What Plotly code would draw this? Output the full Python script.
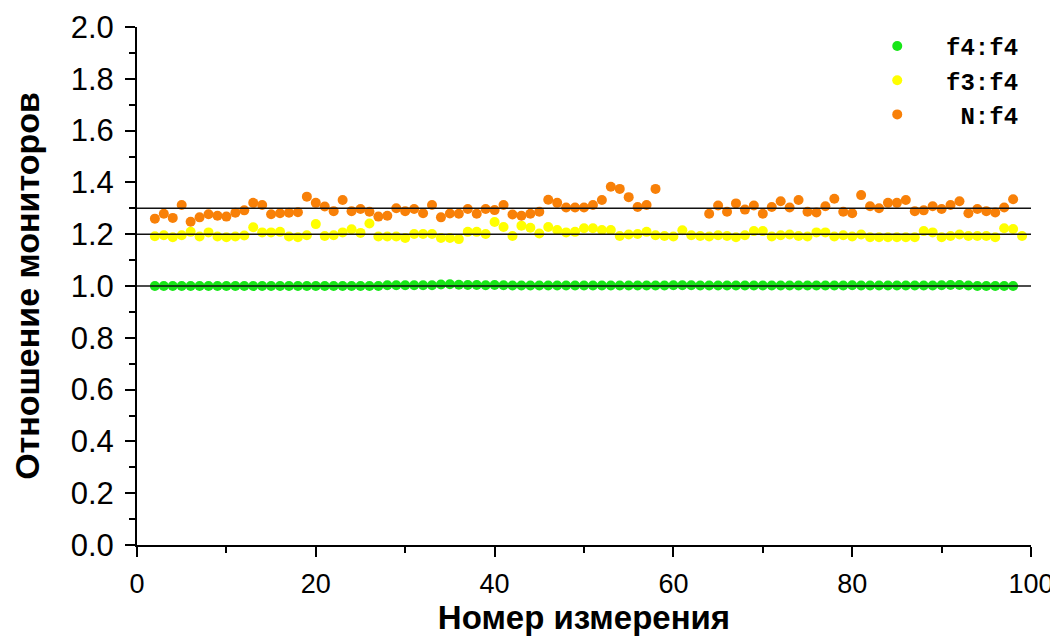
import plotly.graph_objects as go

# ---- data ----
green_x = list(range(2, 99))
green_y = [1.000, 1.000, 1.000, 1.000, 1.000, 1.000, 1.000, 1.000, 1.000, 1.000,
           1.000, 1.000, 1.000, 1.000, 1.000, 1.000, 1.000, 1.000, 1.000, 1.000,
           1.000, 1.000, 1.000, 1.000, 1.000, 1.000, 1.003, 1.003, 1.003, 1.003,
           1.003, 1.003, 1.006, 1.007, 1.005, 1.004, 1.004, 1.003, 1.004, 1.003,
           1.002, 1.002, 1.002, 1.002, 1.002, 1.002, 1.002, 1.002, 1.002, 1.002,
           1.002, 1.002, 1.002, 1.002, 1.002, 1.002, 1.002, 1.002, 1.003, 1.003,
           1.003, 1.002, 1.002, 1.002, 1.002, 1.002, 1.002, 1.002, 1.002, 1.002,
           1.002, 1.002, 1.002, 1.002, 1.002, 1.002, 1.002, 1.002, 1.003, 1.002,
           1.002, 1.002, 1.002, 1.002, 1.002, 1.002, 1.002, 1.002, 1.003, 1.004,
           1.004, 1.002, 1.000, 1.000, 1.000, 1.000, 1.000]

yellow_x = list(range(2, 100))
yellow_y = [1.192, 1.196, 1.188, 1.196, 1.209, 1.191, 1.207, 1.191, 1.188, 1.191,
            1.195, 1.227, 1.207, 1.207, 1.209, 1.191, 1.188, 1.196, 1.239,
            1.193, 1.196, 1.207, 1.219, 1.205, 1.241, 1.191, 1.191, 1.191, 1.185,
            1.201, 1.201, 1.201, 1.185, 1.185, 1.181, 1.209, 1.209, 1.201, 1.247,
            1.228, 1.193, 1.233, 1.225, 1.203, 1.228, 1.216, 1.207, 1.209, 1.223,
            1.223, 1.216, 1.216, 1.193, 1.199, 1.201, 1.209, 1.196, 1.193, 1.191,
            1.215, 1.196, 1.193, 1.191, 1.196, 1.193, 1.188, 1.196, 1.212, 1.212,
            1.191, 1.196, 1.199, 1.193, 1.191, 1.207, 1.207, 1.191, 1.196, 1.191, 1.199,
            1.188, 1.188, 1.188, 1.188, 1.188, 1.188, 1.212, 1.207, 1.188, 1.193,
            1.199, 1.193, 1.193, 1.193, 1.188, 1.223, 1.220, 1.193]

orange_x = list(range(2, 59)) + list(range(64, 99))
orange_y = [1.260, 1.279, 1.263, 1.313, 1.248, 1.265, 1.277, 1.271, 1.268, 1.283,
            1.292, 1.321, 1.313, 1.277, 1.281, 1.283, 1.285, 1.345, 1.321,
            1.307, 1.289, 1.332, 1.289, 1.297, 1.287, 1.268, 1.271, 1.300, 1.289,
            1.297, 1.281, 1.313, 1.265, 1.280, 1.279, 1.297, 1.279, 1.297, 1.293,
            1.313, 1.276, 1.271, 1.279, 1.287, 1.333, 1.321, 1.303, 1.303, 1.303,
            1.313, 1.332, 1.383, 1.375, 1.343, 1.305, 1.313, 1.375,
            1.279, 1.311, 1.287, 1.319, 1.295, 1.311, 1.279, 1.305, 1.327, 1.303,
            1.332, 1.287, 1.284, 1.308, 1.337, 1.287, 1.281, 1.351, 1.308, 1.300,
            1.321, 1.321, 1.332, 1.289, 1.292, 1.308, 1.297, 1.313, 1.327, 1.281,
            1.297, 1.289, 1.284, 1.303, 1.335]

series_names = ["\u00a0\u00a0f4:f4", "\u00a0\u00a0f3:f4", "\u00a0\u00a0\u00a0N:f4"]
series_colors = ["#17e617", "#ffff00", "#f88008"]
ref_lines = [1.0, 1.2, 1.3]

x_title = "Номер измерения"
y_title = "Отношение мониторов"

fig = go.Figure()
for xs, ys, name, col in zip([green_x, yellow_x, orange_x],
                             [green_y, yellow_y, orange_y],
                             series_names, series_colors):
    fig.add_trace(go.Scatter(x=xs, y=ys, mode="markers", name=name,
                             marker=dict(color=col, size=10, line=dict(width=0))))

for v in ref_lines:
    fig.add_shape(type="line", xref="paper", yref="y", x0=0, x1=1, y0=v, y1=v,
                  line=dict(color="#111111", width=1.6), layer="above")

axis_common = dict(showline=True, linecolor="black", linewidth=2,
                   ticks="outside", tickwidth=2, tickcolor="black", ticklen=10,
                   showgrid=False, zeroline=False, mirror=False, automargin=False)

fig.update_xaxes(range=[0, 100], dtick=20, tick0=0, ticklabelstandoff=4,
                 tickfont=dict(family="Liberation Sans, Arial", size=27, color="black"),
                 minor=dict(dtick=10, ticks="outside", ticklen=6, tickwidth=2, tickcolor="black"),
                 title=dict(text=x_title, standoff=3,
                            font=dict(family="Liberation Sans, Arial", size=33, color="black",
                                      weight="bold")),
                 **axis_common)
fig.update_yaxes(range=[0, 2], dtick=0.2, tick0=0, tickformat=".1f", ticklabelstandoff=5,
                 tickfont=dict(family="Liberation Sans, Arial", size=31, color="black"),
                 minor=dict(dtick=0.1, ticks="outside", ticklen=6, tickwidth=2, tickcolor="black"),
                 title=dict(text=y_title, standoff=28,
                            font=dict(family="Liberation Sans, Arial", size=34, color="black",
                                      weight="bold")),
                 **axis_common)

# the page body adds an 8px offset, so the figure is 8px smaller than the window
fig.update_layout(
    width=1050, height=629,
    margin=dict(l=129, r=27, t=19, b=92),
    plot_bgcolor="white", paper_bgcolor="white",
    showlegend=True,
    legend=dict(x=0.828, y=1.006, xanchor="left", yanchor="top",
                bgcolor="rgba(0,0,0,0)",
                font=dict(family="Liberation Mono, Courier New", size=24, color="black",
                          weight="bold")),
)

fig.write_html("out.html")
